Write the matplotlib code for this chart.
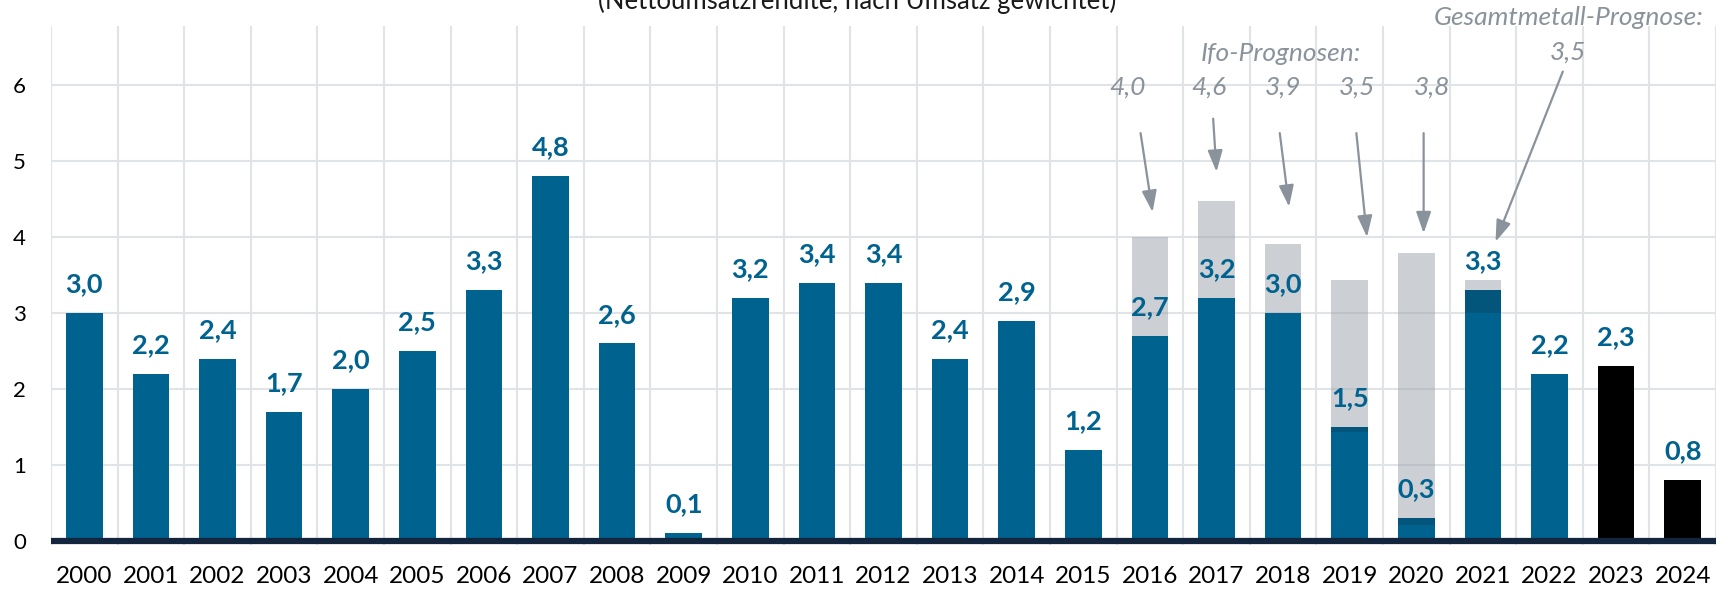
import matplotlib.pyplot as plt
import numpy as np

# Umsatzrendite M+E-Industrie, Prozent
years = [str(y) for y in range(2000, 2025)]
rendite = [3.0, 2.2, 2.4, 1.7, 2.0, 2.5, 3.3, 4.8, 2.6, 0.1, 3.2, 3.4, 3.4, 2.4, 2.9,
           1.2, 2.7, 3.2, 3.0, 1.5, 0.3, 3.3, 2.2, 2.3, 0.8]
black_years = ['2023', '2024']

# Prognosen (graue Balken)
prog_years = ['2016', '2017', '2018', '2019', '2020', '2021']
prog_top = [4.0, 4.47, 3.91, 3.43, 3.79, 3.43]
prog_base = [2.7, 3.2, 3.0, 1.44, 0.21, 3.0]
ifo_labels = ['4,0', '4,6', '3,9', '3,5', '3,8']
gesamt_label = '3,5'

blue = '#00628f'
dark_blue = '#04557c'
grey_txt = '#8a939b'

plt.rcParams['font.family'] = ['Lato', 'DejaVu Sans']

fig = plt.figure(figsize=(17.23, 5.9), dpi=100)
ax = fig.add_axes([51 / 1723, 45 / 590, (1716 - 51) / 1723, (564 - 45) / 590])

x = np.arange(len(years))
colors = ['black' if y in black_years else blue for y in years]
w = 0.55

# graue Prognosebalken
px = np.array([years.index(y) for y in prog_years])
ax.bar(px, np.array(prog_top) - np.array(prog_base), bottom=prog_base, width=w,
       color='#9ba2ab', alpha=0.5, zorder=1)

ax.bar(x, rendite, width=w, color=colors, zorder=2)

# Überlappung Ist / Prognose
for i, y in enumerate(prog_years):
    v = rendite[px[i]]
    if prog_base[i] < v:
        ax.bar(px[i], v - prog_base[i], bottom=prog_base[i], width=w, color=dark_blue, zorder=3)

for xi, v in zip(x, rendite):
    ax.annotate(f'{v:.1f}'.replace('.', ','), (xi, v), xytext=(0, 15), textcoords='offset points',
                ha='center', va='baseline', fontsize=19.5, fontweight='bold', color=blue, zorder=5)

ax.axhline(0, color='#13263d', lw=4.5, zorder=4)

ax.set_xlim(-0.5, 24.5)
ax.set_ylim(-0.053, 6.78)
ax.set_yticks(range(7))
ax.set_xticks(x)
ax.set_xticklabels(years)
ax.set_xticks(np.arange(-0.5, 25, 1), minor=True)
ax.yaxis.grid(True, color='#e0e4e7', lw=1.5)
ax.xaxis.grid(True, which='minor', color='#e0e4e7', lw=1.5)
ax.set_axisbelow(True)
ax.tick_params(axis='both', which='both', length=0)
ax.tick_params(axis='x', labelsize=17.5, pad=15)
ax.tick_params(axis='y', labelsize=16, pad=18)
for s in ax.spines.values():
    s.set_visible(False)

# Annotationen
it = dict(color=grey_txt, fontsize=19, style='italic', ha='center', va='center')
ax.text(17.96, 6.42, 'Ifo-Prognosen:', **it)
ifo_x = [15.67, 16.88, 18.0, 19.11, 20.23]
for lx, lab in zip(ifo_x, ifo_labels):
    ax.text(lx, 5.97, lab, **it)
ax.text(22.28, 6.89, 'Gesamtmetall-Prognose:', **it)
ax.text(22.28, 6.44, gesamt_label, **it)

arrows = [((15.86, 5.37), (16.04, 4.33)),
          ((16.95, 5.56), (17.00, 4.86)),
          ((17.95, 5.37), (18.09, 4.40)),
          ((19.10, 5.37), (19.26, 4.00)),
          ((20.11, 5.37), (20.11, 4.05)),
          ((22.20, 6.18), (21.19, 3.94))]
for a, b in arrows:
    ax.annotate('', xy=b, xytext=a,
                arrowprops=dict(arrowstyle='-|>,head_length=1.3,head_width=0.45', mutation_scale=10,
                                color=grey_txt, lw=1.6, shrinkA=0, shrinkB=0), zorder=6)

fig.text(857 / 1723, 1 - 9.5 / 590, '(Nettoumsatzrendite, nach Umsatz gewichtet)',
         ha='center', va='baseline', fontsize=18.5, color='#1a1a1a')

plt.savefig('out.png', dpi=100)
